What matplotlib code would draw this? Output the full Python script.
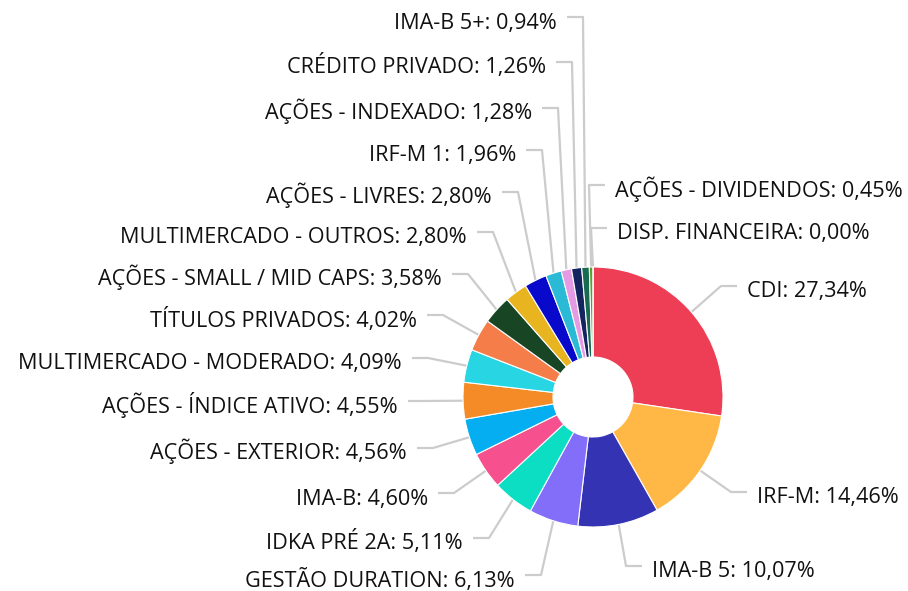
import matplotlib.pyplot as plt
import numpy as np

# data
names = ["CDI", "IRF-M", "IMA-B 5", "GESTÃO DURATION", "IDKA PRÉ 2A", "IMA-B",
         "AÇÕES - EXTERIOR", "AÇÕES - ÍNDICE ATIVO", "MULTIMERCADO - MODERADO",
         "TÍTULOS PRIVADOS", "AÇÕES - SMALL / MID CAPS", "MULTIMERCADO - OUTROS",
         "AÇÕES - LIVRES", "IRF-M 1", "AÇÕES - INDEXADO", "CRÉDITO PRIVADO",
         "IMA-B 5+", "AÇÕES - DIVIDENDOS", "DISP. FINANCEIRA"]
shares = [27.34, 14.46, 10.07, 6.13, 5.11, 4.60, 4.56, 4.55, 4.09, 4.02, 3.58,
          2.80, 2.80, 1.96, 1.28, 1.26, 0.94, 0.45, 0.00]
colors = ["#EE3E55", "#FFB845", "#3333B4", "#826EF8", "#0BDEC3", "#F7508E",
          "#05AEF1", "#F58B26", "#27D5E3", "#F57D4A", "#184625", "#E8B420",
          "#0909CC", "#2BBAD6", "#E49BE4", "#14245E", "#176B52", "#5BA02B",
          "#999999"]

# label layout in pixels: (text edge x, connector y, side)
label_pos = [(747, 286, "r"), (757, 492, "r"), (652, 566, "r"), (515, 575, "l"),
             (463, 538, "l"), (428, 493, "l"), (407, 448, "l"), (398, 401, "l"),
             (402, 358, "l"), (417, 315, "l"), (442, 274, "l"), (467, 232, "l"),
             (492, 192, "l"), (516, 150, "l"), (532, 108, "l"), (546, 62, "l"),
             (557, 17, "l"), (615, 185, "r"), (617, 228, "r")]

cx, cy, r, hole = 593, 397, 130, 40

fig = plt.figure(figsize=(9.08, 5.91), dpi=100)
ax = fig.add_axes([0, 0, 1, 1])

ax.pie(shares, colors=colors, center=(cx, cy), radius=r, startangle=-90,
       counterclock=True,
       wedgeprops=dict(width=r - hole, edgecolor="white", linewidth=0.8))

ax.set_xlim(0, 908)
ax.set_ylim(591, 0)
ax.set_aspect("equal")
ax.axis("off")

total = sum(shares)
cum = np.cumsum([0] + shares[:-1])
for name, v, c0, (tx, ly, side) in zip(names, shares, cum, label_pos):
    ang = np.deg2rad(360 * (c0 + v / 2) / total)
    px = cx + r * np.sin(ang)
    py = cy - r * np.cos(ang)
    if side == "l":
        ex, bx, ha = tx + 10, tx + 26, "right"
    else:
        ex, bx, ha = tx - 10, tx - 26, "left"
    ax.plot([ex, bx, px], [ly, ly, py], color="#CCCCCC", lw=1.6,
            solid_capstyle="butt", zorder=0)
    pct = f"{v:.2f}".replace(".", ",")
    ax.text(tx, ly + 11.5, f"{name}: {pct}%", ha=ha, va="baseline",
            fontsize=15.6, family="Open Sans", color="#111111")

fig.savefig("out.png", dpi=100)
